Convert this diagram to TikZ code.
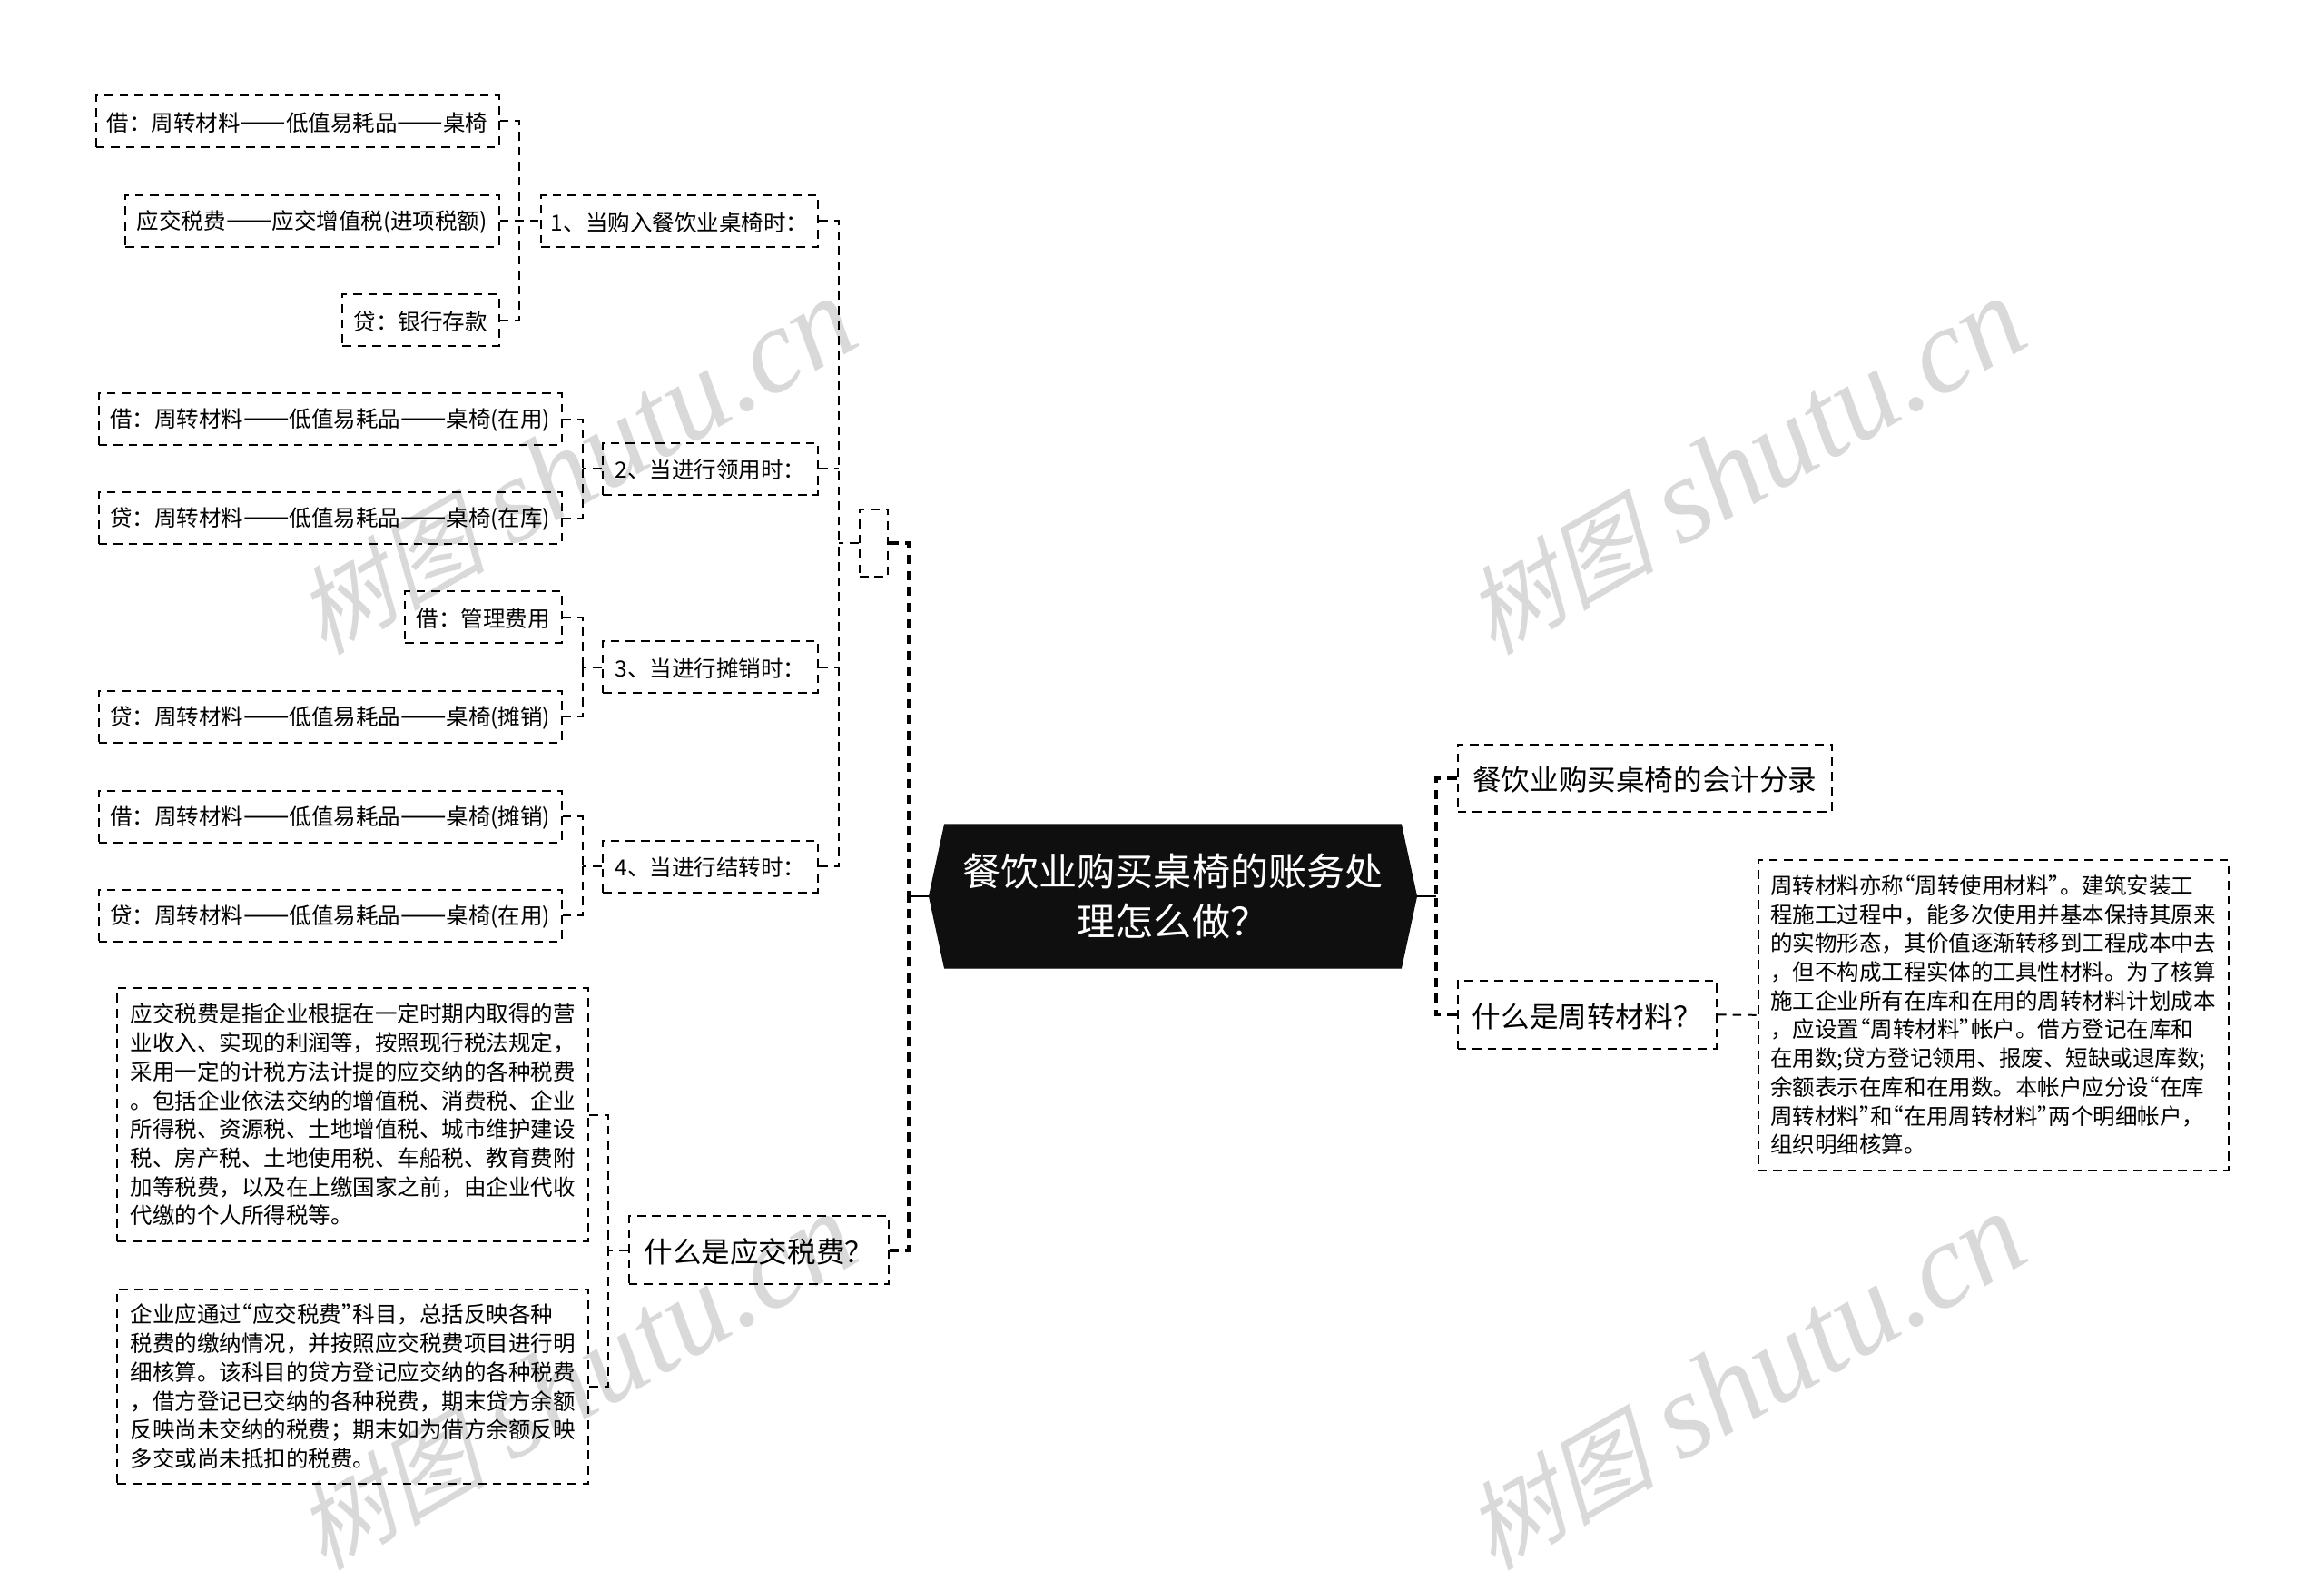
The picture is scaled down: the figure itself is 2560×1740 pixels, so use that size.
\documentclass[tikz,border=0pt]{standalone}
\usepackage{fontspec}
\setmainfont{Noto Sans CJK SC}
\newfontfamily\markcjk[FakeSlant=0.25]{Noto Sans CJK SC}
\newfontfamily\marklatin{Liberation Serif}
\usetikzlibrary{positioning, shapes.symbols}
\newcommand{\ldash}{{\fontsize{11.3pt}{11.9pt}\selectfont ——}}
\newcommand{\oq}{\kern-0.5em“}
\newcommand{\cq}{”\kern-0.5em}

\begin{document}
\begin{tikzpicture}[
    x=0.375pt, y=-0.375pt,
    boxsize/.style 2 args={minimum width=#1*0.375pt, minimum height=#2*0.375pt},
    leaf/.style={rectangle, draw=black, line width=0.75pt, dash pattern=on 3.6pt off 2.6pt,
                 inner sep=0pt, align=center, font=\fontsize{9.19pt}{11.9pt}\selectfont,
                 execute at begin node={\rule{0pt}{0.97em}}},
    topic/.style={leaf, font=\fontsize{11.85pt}{14pt}\selectfont},
    para/.style={leaf, align=left},
    root/.style={signal, signal to=east and west, signal pointer angle=155.7, fill=black!94, draw=black!94,
                 text=white, inner sep=0pt, align=center, font=\fontsize{15.8pt}{20.8pt}\selectfont},
    link/.style={line width=0.75pt, dash pattern=on 3.6pt off 2.6pt},
    trunk/.style={line width=1.5pt, dash pattern=on 3.8pt off 2.8pt},
    stub/.style={line width=1.1pt},
    wmark/.style={text=black!15, rotate=30}
]
    \useasboundingbox (0,0) rectangle (2560,1740);

    % Watermarks
    \foreach \wx/\wy in {633/514, 1921/514, 633/1522, 1921/1522}
        \node[wmark] (wm\wx\wy) at (\wx,\wy) {\fontsize{39.5pt}{50pt}\selectfont\markcjk 树图\hspace{11pt}\fontsize{50pt}{50pt}\selectfont\marklatin\itshape shutu.cn};

    % Root
    \node[root, boxsize={537}{158}] (main) at (1292,987) {餐饮业购买桌椅的账务处\\理怎么做？};

    % Left side, first group
    \node[leaf, boxsize={172.6}{57}] (credita) at (463.3,352.5) {贷：银行存款};
    \node[leaf, boxsize={411.6}{57}] (taxa) at (343.8,243.3) {应交税费\ldash 应交增值税(进项税额)};
    \node[leaf, boxsize={444}{57}] (debita) at (327.7,133.5) {借：周转材料\ldash 低值易耗品\ldash 桌椅};
    \node[leaf, boxsize={305}{57}] (stepa) at (748.5,243.3) {1、当购入餐饮业桌椅时：};

    % Second group
    \node[leaf, boxsize={510}{57}] (debitb) at (363.6,461.5) {借：周转材料\ldash 低值易耗品\ldash 桌椅(在用)};
    \node[leaf, boxsize={510}{57}] (creditb) at (363.6,570.5) {贷：周转材料\ldash 低值易耗品\ldash 桌椅(在库)};
    \node[leaf, boxsize={237}{57}] (stepb) at (782.5,516) {2、当进行领用时：};

    % Third group
    \node[leaf, boxsize={172.8}{57}] (debitc) at (532.4,679.5) {借：管理费用};
    \node[leaf, boxsize={510}{57}] (creditc) at (363.6,789) {贷：周转材料\ldash 低值易耗品\ldash 桌椅(摊销)};
    \node[leaf, boxsize={237}{57}] (stepc) at (782.5,734.6) {3、当进行摊销时：};

    % Fourth group
    \node[leaf, boxsize={510}{57}] (debitd) at (363.6,899) {借：周转材料\ldash 低值易耗品\ldash 桌椅(摊销)};
    \node[leaf, boxsize={510}{57}] (creditd) at (363.6,1008) {贷：周转材料\ldash 低值易耗品\ldash 桌椅(在用)};
    \node[leaf, boxsize={237}{57}] (stepd) at (782.5,954) {4、当进行结转时：};

    % Empty box
    \node[leaf, boxsize={31.5}{74.4}] (hollow) at (962.7,597.8) {};

    % Tax part
    \node[para, boxsize={518.6}{279}] (taxdef) at (388.7,1227.5) {应交税费是指企业根据在一定时期内取得的营\\业收入、实现的利润等，按照现行税法规定，\\采用一定的计税方法计提的应交纳的各种税费\\。包括企业依法交纳的增值税、消费税、企业\\所得税、资源税、土地增值税、城市维护建设\\税、房产税、土地使用税、车船税、教育费附\\加等税费，以及在上缴国家之前，由企业代收\\代缴的个人所得税等。};
    \node[para, boxsize={518.6}{214.3}] (taxuse) at (388.7,1526.9) {企业应通过\oq 应交税费\cq 科目，总括反映各种\\税费的缴纳情况，并按照应交税费项目进行明\\细核算。该科目的贷方登记应交纳的各种税费\\，借方登记已交纳的各种税费，期末贷方余额\\反映尚未交纳的税费；期末如为借方余额反映\\多交或尚未抵扣的税费。};
    \node[topic, boxsize={286}{75}] (taxq) at (835.8,1376.9) {什么是应交税费？};

    % Right side
    \node[topic, boxsize={412.4}{74.4}] (entry) at (1811.8,856.8) {餐饮业购买桌椅的会计分录};
    \node[topic, boxsize={285.4}{74.6}] (toolq) at (1748.3,1117.3) {什么是周转材料？};
    \node[para, boxsize={518}{341.6}] (tooldef) at (2195.5,1117.8) {周转材料亦称\oq 周转使用材料\cq 。建筑安装工\\程施工过程中，能多次使用并基本保持其原来\\的实物形态，其价值逐渐转移到工程成本中去\\，但不构成工程实体的工具性材料。为了核算\\施工企业所有在库和在用的周转材料计划成本\\，应设置\oq 周转材料\cq 帐户。借方登记在库和\\在用数;贷方登记领用、报废、短缺或退库数;\\余额表示在库和在用数。本帐户应分设\oq 在库\\周转材料\cq 和\oq 在用周转材料\cq 两个明细帐户，\\组织明细核算。};

    % Junctions
    \coordinate (busa) at (572,243.3);
    \coordinate (busb) at (641.5,516);
    \coordinate (busc) at (641.5,734.6);
    \coordinate (busd) at (641.5,954);
    \coordinate (buse) at (670,1376.9);
    \coordinate (busmid) at (923.8,597.8);
    \coordinate (busleft) at (1001.3,987);
    \coordinate (busright) at (1582.3,987);

    % Connectors
    \draw[link] (debita.east) -| (busa);
    \draw[link] (credita.east) -| (busa);
    \draw[link] (taxa.east) -- (stepa.west);
    \draw[link] (debitb.east) -| (busb);
    \draw[link] (creditb.east) -| (busb);
    \draw[link] (stepb.west) -- (busb);
    \draw[link] (debitc.east) -| (busc);
    \draw[link] (creditc.east) -| (busc);
    \draw[link] (stepc.west) -- (busc);
    \draw[link] (debitd.east) -| (busd);
    \draw[link] (creditd.east) -| (busd);
    \draw[link] (stepd.west) -- (busd);
    \draw[link] (stepa.east) -| (busmid);
    \draw[link] (stepd.east) -| (busmid);
    \draw[link] (stepb.east) -- (stepb.east -| busmid);
    \draw[link] (stepc.east) -- (stepc.east -| busmid);
    \draw[link] (hollow.west) -- (busmid);
    \draw[link] (taxdef.east) -| (buse);
    \draw[link] (taxuse.east) -| (buse);
    \draw[link] (taxq.west) -- (buse);
    \draw[link] (toolq.east) -- (tooldef.west);

    \draw[stub] (main.west) -- (busleft);
    \draw[stub] (main.east) -- (busright);
    \draw[trunk] (hollow.east) -| (busleft);
    \draw[trunk] (taxq.east) -| (busleft);
    \draw[trunk] (entry.west) -| (busright);
    \draw[trunk] (toolq.west) -| (busright);
\end{tikzpicture}
\end{document}
